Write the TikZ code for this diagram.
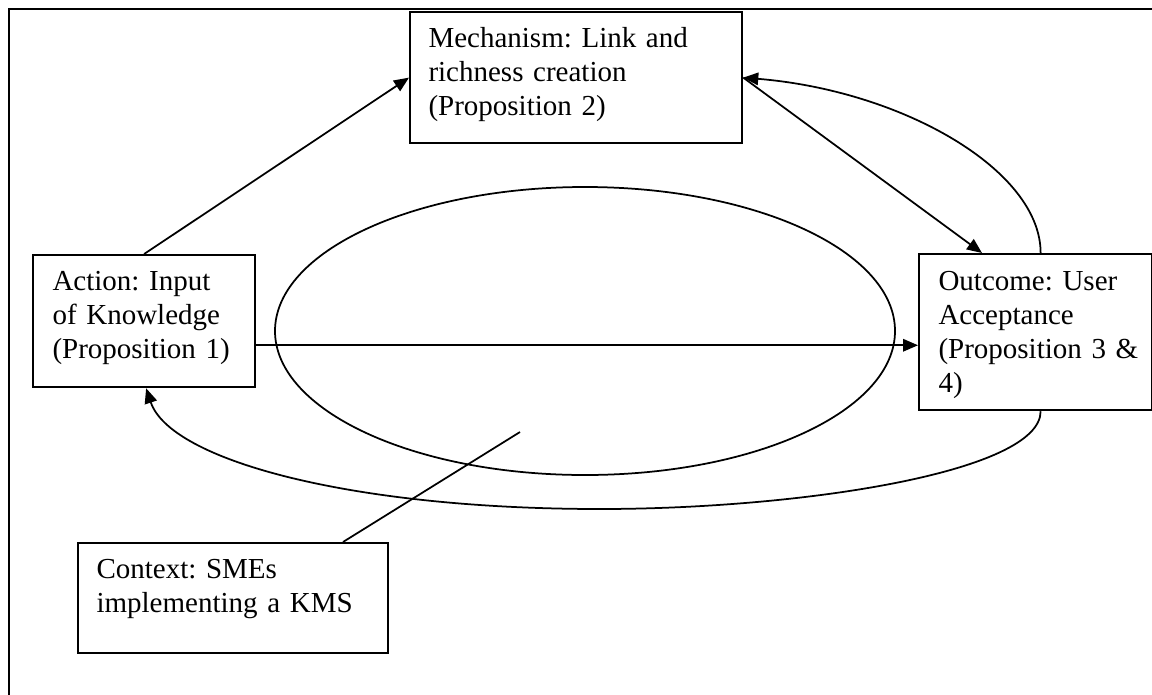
\documentclass[tikz,border=0pt]{standalone}
\usepackage{fontspec}
\setmainfont{Liberation Serif}
\usetikzlibrary{arrows.meta,calc}
\begin{document}
\begin{tikzpicture}[x=0.4pt,y=-0.4pt,
  box/.style={draw, line width=0.9pt, inner sep=0pt, anchor=north west},
  txt/.style={anchor=base west, inner sep=0pt, align=left, text width=120pt, font=\fontsize{11.6}{13.7}\selectfont\frenchspacing},
  conn/.style={line width=0.7pt, -{Triangle[length=6pt,width=5pt]}},
  link/.style={line width=0.7pt},
  frame/.style={line width=1.1pt}]
\clip (0,0) rectangle (1152,694);
\fill[white] (0,0) rectangle (1152,694);
\draw[frame] (9,710) -- (9,9) -- (1170,9);
% boxes
\node[box, minimum width=132.8pt, minimum height=52.4pt] (mech) at (409,11) {};
\node[box, minimum width=88.8pt, minimum height=52.8pt] (act) at (32,254) {};
\node[box, minimum width=93.2pt, minimum height=62.4pt] (out) at (918,253) {};
\node[box, minimum width=124pt, minimum height=44pt] (ctx) at (77,542) {};
% texts
\node[txt] (mecht) at (428,47) {Mechanism: Link and\\richness creation\\(Proposition 2)};
\node[txt] (actt) at (52,290) {Action: Input\\of Knowledge\\(Proposition 1)};
\node[txt] (outt) at (938,290) {Outcome: User\\Acceptance\\(Proposition 3 \&\\4)};
\node[txt] (ctxt) at (96,578) {Context: SMEs\\implementing a KMS};
% ellipse
\draw[link] (585,331) ellipse [x radius=310, y radius=144];
% connectors
\draw[conn] (act.north) -- (mech.west);
\draw[conn] (mech.east) -- ($(out.north west)+(64,0)$);
\draw[conn] ($(out.north)+(5,0)$) .. controls +(0,-83) and +(159,13) .. (mech.east);
\coordinate (h1) at ($(act.south east)+(0,-43)$);
\draw[conn] (h1) -- (h1 -| out.west);
\draw[conn] ($(out.south)+(5,0)$) .. controls +(0,61) and (800,509) .. (600,509)
  .. controls (350,509) and (170,460) .. ($(act.south)+(2,0)$);
\coordinate (ctxend) at (520,432);
\draw[link] ($(ctx.north west)+(266,0)$) -- (ctxend);
\end{tikzpicture}
\end{document}
